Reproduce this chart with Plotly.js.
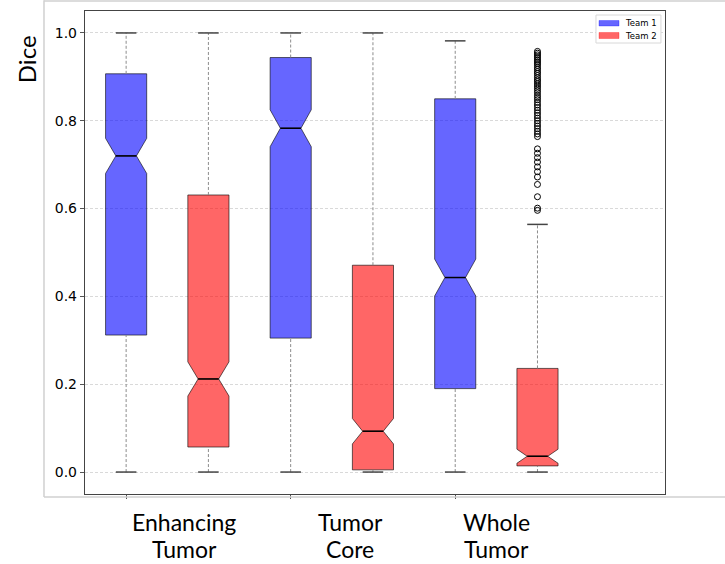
<!DOCTYPE html>
<html>
<head>
<meta charset="utf-8">
<script src="https://cdn.plot.ly/plotly-3.0.1.min.js"></script>
<style>html,body{margin:0;padding:0;background:#fff;}#chart{width:725px;height:564px;}</style>
</head>
<body>
<div id="chart"></div>
<script>
// ---- data ----
var categories = ['Enhancing Tumor', 'Tumor Core', 'Whole Tumor'];
var teamNames = ['Team 1', 'Team 2'];

var team1Q1 = [0.312, 0.305, 0.190];
var team1Median = [0.720, 0.783, 0.443];
var team1Q3 = [0.907, 0.944, 0.850];
var team1Lower = [0.0, 0.0, 0.0];
var team1Upper = [1.0, 1.0, 0.982];
var team1Notch = [0.040, 0.042, 0.042];

var team2Q1 = [0.057, 0.005, 0.014];
var team2Median = [0.212, 0.093, 0.036];
var team2Q3 = [0.631, 0.471, 0.236];
var team2Lower = [0.0, 0.0, 0.0];
var team2Upper = [1.0, 1.0, 0.564];
var team2Notch = [0.039, 0.029, 0.016];

// outliers of Team 2, Whole Tumor
var team2WholeOutliers = [0.958, 0.954, 0.950, 0.946, 0.942, 0.938, 0.934, 0.930, 0.926, 0.921,
  0.917, 0.912, 0.908, 0.903, 0.898, 0.893, 0.889, 0.884, 0.879, 0.874, 0.869, 0.864, 0.858,
  0.853, 0.848, 0.842, 0.836, 0.830, 0.824, 0.818, 0.812, 0.806, 0.800, 0.794, 0.788, 0.782,
  0.776, 0.770, 0.764, 0.736, 0.726, 0.716, 0.706, 0.695, 0.684, 0.672, 0.655, 0.627, 0.601, 0.596];

var yTicks = [0.0, 0.2, 0.4, 0.6, 0.8, 1.0];

// ---- build ----
var teams = [
  {name: teamNames[0], q1: team1Q1, med: team1Median, q3: team1Q3, lo: team1Lower, hi: team1Upper, notch: team1Notch,
   fill: 'rgba(0,0,255,0.6)', offset: 0},
  {name: teamNames[1], q1: team2Q1, med: team2Median, q3: team2Q3, lo: team2Lower, hi: team2Upper, notch: team2Notch,
   fill: 'rgba(255,0,0,0.6)', offset: 1}
];
var boxWidth = 0.5;
var capHalf = 0.125;
var medHalf = 0.125;

var traces = [];
teams.forEach(function (t) {
  var xs = categories.map(function (c, i) { return 2 * i + 1 + t.offset; });
  t.xs = xs;
  traces.push({
    type: 'box', name: t.name, legendgroup: t.name, x: xs,
    q1: t.q1, median: t.med, q3: t.q3, lowerfence: t.q1, upperfence: t.q3,
    notchspan: t.notch, notched: true, notchwidth: 0.25,
    width: boxWidth, whiskerwidth: 0, showlegend: false,
    fillcolor: t.fill, line: {color: 'rgba(0,0,0,0.6)', width: 1},
    boxpoints: false, hoverinfo: 'skip'
  });
});
teams.forEach(function (t) {
  var wx = [], wy = [], cx = [], cy = [], mx = [], my = [];
  t.xs.forEach(function (x, i) {
    wx.push(x, x, null, x, x, null);
    wy.push(t.lo[i], t.q1[i], null, t.q3[i], t.hi[i], null);
    cx.push(x - capHalf, x + capHalf, null, x - capHalf, x + capHalf, null);
    cy.push(t.lo[i], t.lo[i], null, t.hi[i], t.hi[i], null);
    mx.push(x - medHalf, x + medHalf, null);
    my.push(t.med[i], t.med[i], null);
  });
  traces.push({type: 'scatter', mode: 'lines', x: wx, y: wy, showlegend: false, hoverinfo: 'skip',
    line: {color: '#8c8c8c', width: 1, dash: '3px,2px'}});
  traces.push({type: 'scatter', mode: 'lines', x: cx, y: cy, showlegend: false, hoverinfo: 'skip',
    line: {color: '#444', width: 1.5}});
  traces.push({type: 'scatter', mode: 'lines', x: mx, y: my, showlegend: false, hoverinfo: 'skip',
    line: {color: '#000', width: 1.5}});
});
traces.push({
  type: 'scatter', mode: 'markers', showlegend: false, hoverinfo: 'skip',
  x: team2WholeOutliers.map(function () { return teams[1].xs[2]; }),
  y: team2WholeOutliers,
  marker: {symbol: 'circle-open', size: 6, color: '#000', line: {width: 1, color: '#000'}}
});

var annotations = [];
var labelX = [0.171, 0.457, 0.710];
categories.forEach(function (c, i) {
  var parts = c.split(' ');
  parts.forEach(function (p, j) {
    annotations.push({text: p, xref: 'paper', yref: 'paper', x: labelX[i], y: j === 0 ? -0.058 : -0.114,
      xanchor: 'center', yanchor: 'middle', showarrow: false,
      font: {family: 'Lato, sans-serif', size: 23, color: '#000'}});
  });
});
annotations.push({text: 'Dice', xref: 'paper', yref: 'paper', x: -0.102, y: 0.9, textangle: -90,
  xanchor: 'center', yanchor: 'middle', showarrow: false,
  font: {family: 'Lato, sans-serif', size: 24, color: '#000'}});

// custom legend (matplotlib-like)
var legendTextY = [0.9745, 0.9489];
var legendPatchY = [[0.969, 0.9803], [0.943, 0.9555]];
var shapes = [
  {type: 'line', xref: 'paper', yref: 'paper', x0: -0.0707, x1: -0.0707, y0: -0.0062, y1: 1.022,
    line: {color: '#d0d0d0', width: 1.5}},
  {type: 'line', xref: 'paper', yref: 'paper', x0: -0.0707, x1: 1.11, y0: -0.0062, y1: -0.0062,
    line: {color: '#d0d0d0', width: 1.5}},
  {type: 'line', xref: 'paper', yref: 'paper', x0: -0.0707, x1: 1.11, y0: 1.0207, y1: 1.0207,
    line: {color: '#d0d0d0', width: 1.5}},
  {type: 'rect', xref: 'paper', yref: 'paper', x0: 0.881, x1: 0.993, y0: 0.9337, y1: 0.9917,
    fillcolor: '#fff', line: {color: '#d8d8d8', width: 1}}
];
teams.forEach(function (t, k) {
  shapes.push({type: 'rect', xref: 'paper', yref: 'paper', x0: 0.8862, x1: 0.9207,
    y0: legendPatchY[k][0], y1: legendPatchY[k][1], fillcolor: t.fill, line: {color: t.fill, width: 0.5}});
  annotations.push({text: t.name, xref: 'paper', yref: 'paper', x: 0.927, y: legendTextY[k],
    xanchor: 'left', yanchor: 'middle', showarrow: false,
    font: {family: 'DejaVu Sans', size: 8.5, color: '#000'}});
});

var layout = {
  width: 725, height: 564,
  margin: {l: 85, r: 60, t: 11, b: 70, autoexpand: false},
  paper_bgcolor: '#fff', plot_bgcolor: '#fff',
  showlegend: false,
  xaxis: {range: [0.5, 7.55], tickvals: categories.map(function (c, i) { return 2 * i + 1; }),
    showticklabels: false, ticks: 'outside', ticklen: 4, tickcolor: '#555',
    showgrid: false, zeroline: false, showline: true, linecolor: '#444', linewidth: 1.2, mirror: true},
  yaxis: {range: [-0.05, 1.05], tickvals: yTicks, ticktext: yTicks.map(function (v) { return v.toFixed(1); }),
    ticks: 'outside', ticklen: 4, tickcolor: '#555',
    tickfont: {family: 'DejaVu Sans', size: 14, color: '#000'},
    showgrid: true, gridcolor: '#d0d0d0', griddash: '3px,2px', gridwidth: 0.8,
    zeroline: false, showline: true, linecolor: '#444', linewidth: 1.2, mirror: true},
  shapes: shapes,
  annotations: annotations
};

Plotly.newPlot('chart', traces, layout, {staticPlot: true, displayModeBar: false});
</script>
</body>
</html>
